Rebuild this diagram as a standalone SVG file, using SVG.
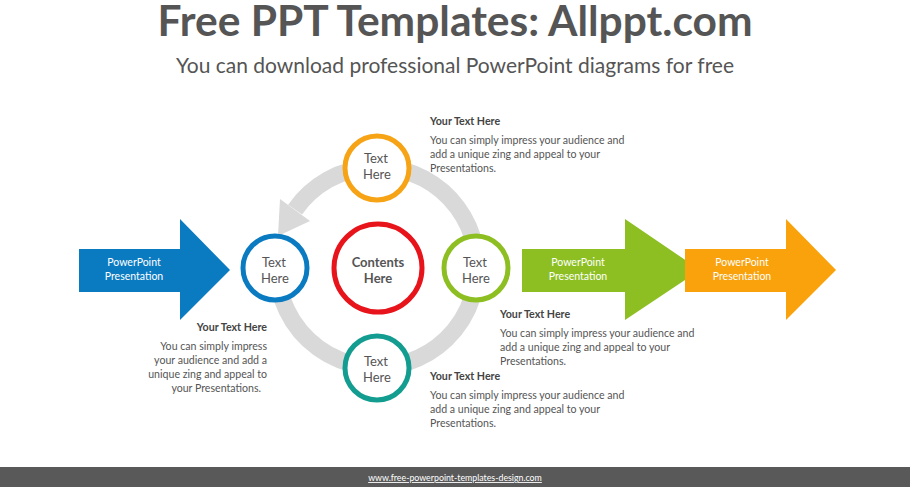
<svg xmlns="http://www.w3.org/2000/svg" width="910" height="487" viewBox="0 0 910 487">
<style>
text{font-family:Lato,"Open Sans",sans-serif;fill:#555}
.t{font-size:42px;font-weight:bold;fill:#555}
.s{font-size:21px;fill:#555}
.h{font-size:10.7px;font-weight:bold;fill:#444}
.b{font-size:10.6px;fill:#555}
.c{font-size:13px;fill:#555;text-anchor:middle}
.w{font-size:10.5px;fill:#fff;text-anchor:middle}
.ring{fill:#fff;stroke-width:5}
</style>
<rect width="910" height="487" fill="#fff"/>
<text class="t" x="455" y="36" text-anchor="middle" textLength="595" lengthAdjust="spacingAndGlyphs">Free PPT Templates: Allppt.com</text>
<text class="s" x="455" y="73" text-anchor="middle">You can download professional PowerPoint diagrams for free</text>
<g id="connectors">
<path d="M295.1 209.6 A100 100 0 1 1 277 267" fill="none" stroke="#d9d9d9" stroke-width="17"/>
<polygon points="310,221 278,236 280,199" fill="#d9d9d9"/>
</g>
<g id="arrow-blue"><polygon points="79,249 180,249 180,219 230,270 180,320 180,292 79,292" fill="#0b7bc1"/><text class="w" x="134" y="266">PowerPoint</text><text class="w" x="134" y="280">Presentation</text></g>
<g id="arrow-green"><polygon points="522,249 625,249 625,219 700,270 625,320 625,292 522,292" fill="#8dbf22"/><text class="w" x="578" y="266">PowerPoint</text><text class="w" x="578" y="280">Presentation</text></g>
<g id="arrow-orange"><polygon points="685,249 786,249 786,219 836,270 786,320 786,292 685,292" fill="#f9a20b"/><text class="w" x="742" y="266">PowerPoint</text><text class="w" x="742" y="280">Presentation</text></g>
<g id="center"><circle class="ring" cx="378" cy="268" r="44" stroke="#e8141b"/><text class="c" x="378" y="267" font-weight="bold">Contents</text><text class="c" x="378" y="283" font-weight="bold">Here</text></g>
<g id="top"><circle class="ring" cx="377" cy="168" r="32" stroke="#f6a316"/><text class="c" x="376" y="163">Text</text><text class="c" x="377" y="179">Here</text></g>
<g id="left"><circle class="ring" cx="275" cy="268" r="32" stroke="#0b7bc1"/><text class="c" x="274" y="267">Text</text><text class="c" x="275" y="283">Here</text></g>
<g id="right"><circle class="ring" cx="476" cy="268" r="32" stroke="#8dbf22"/><text class="c" x="475" y="267">Text</text><text class="c" x="476" y="283">Here</text></g>
<g id="bottom"><circle class="ring" cx="377" cy="368" r="32" stroke="#139d90"/><text class="c" x="376" y="366">Text</text><text class="c" x="377" y="382">Here</text></g>
<g id="note-top"><text class="h" x="430" y="125">Your Text Here</text><text class="b" x="430" y="144">You can simply impress your audience and</text><text class="b" x="430" y="158">add a unique zing and appeal to your</text><text class="b" x="430" y="172">Presentations.</text></g>
<g id="note-right"><text class="h" x="500" y="318">Your Text Here</text><text class="b" x="500" y="337">You can simply impress your audience and</text><text class="b" x="500" y="351">add a unique zing and appeal to your</text><text class="b" x="500" y="365">Presentations.</text></g>
<g id="note-bottom"><text class="h" x="430" y="380">Your Text Here</text><text class="b" x="430" y="399">You can simply impress your audience and</text><text class="b" x="430" y="413">add a unique zing and appeal to your</text><text class="b" x="430" y="427">Presentations.</text></g>
<g id="note-left" text-anchor="end"><text class="h" x="267" y="331">Your Text Here</text><text class="b" x="267" y="350">You can simply impress</text><text class="b" x="267" y="364">your audience and add a</text><text class="b" x="267" y="378">unique zing and appeal to</text><text class="b" x="261" y="392">your Presentations.</text></g>
<rect x="0" y="467" width="910" height="20" fill="#595959"/>
<text x="455" y="481" text-anchor="middle" style="font-size:8.8px;fill:#fff;text-decoration:underline">www.free-powerpoint-templates-design.com</text>
</svg>
